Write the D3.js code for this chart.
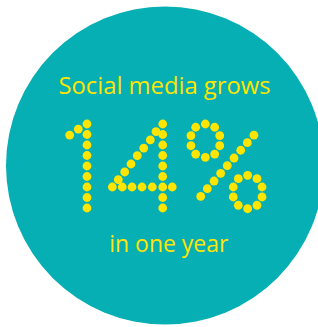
<!DOCTYPE html>
<html>
<head>
    <meta charset="utf-8">
    <style>
        body { margin: 0; background: #fff; }
        text { font-family: "Open Sans", sans-serif; fill: #ffe500; }
    </style>
    <script src="https://d3js.org/d3.v7.min.js"></script>
</head>
<body>
    <div id="graph"></div>
    <script>
        // dot positions on a grid (x col, y row)
        var oneDots = [[-1.65, 1.05], [-0.83, 0.48],
            [0, 0], [0, 1], [0, 2], [0, 3], [0, 4], [0, 5], [0, 6], [0, 7], [0, 8]];
        var fourDots = [[7.21, 0], [7.21, 1], [7.21, 2], [7.21, 3], [7.21, 4], [7.21, 5], [7.21, 6], [7.21, 7], [7.21, 8],
            [6.57, 0.73], [6.03, 1.52], [5.4, 2.29], [4.79, 3.02], [4.19, 3.81], [3.59, 4.57], [2.98, 5.3],
            [2.41, 6], [3.36, 6], [4.29, 6], [5.24, 6], [6.22, 6], [8.12, 6]];
        var percentDots = [
            [11.27, 0], [12.16, 0.31], [12.64, 1.11], [12.64, 2.07], [12.16, 2.86],
            [11.27, 3.17], [10.35, 2.86], [9.9, 2.07], [9.9, 1.11], [10.35, 0.31],
            [15.9, 1.05], [15.27, 1.78], [14.64, 2.5], [14, 3.24], [13.36, 3.97],
            [12.73, 4.7], [12.1, 5.43], [11.46, 6.16], [10.83, 6.89],
            [15.3, 4.89], [16.19, 5.21], [16.67, 6], [16.67, 6.95], [16.19, 7.74],
            [15.3, 8.07], [14.41, 7.74], [13.93, 6.95], [13.93, 6], [14.41, 5.21]];
        var headline = "Social media grows";
        var footline = "in one year";

        var width = 318, height = 327;
        var svg = d3.select("#graph").append("svg")
            .attr("width", width)
            .attr("height", height);

        var x = d3.scaleLinear().domain([0, 16]).range([87, 255]);
        var y = d3.scaleLinear().domain([0, 8]).range([124, 208]);

        svg.append("circle")
            .attr("cx", 165)
            .attr("cy", 165.5)
            .attr("r", 159)
            .attr("fill", "#06afb3");

        svg.append("text")
            .attr("x", 164.5)
            .attr("y", 94)
            .attr("text-anchor", "middle")
            .attr("font-size", 24)
            .attr("textLength", 212)
            .attr("lengthAdjust", "spacingAndGlyphs")
            .text(headline);

        svg.append("text")
            .attr("x", 168.8)
            .attr("y", 251.7)
            .attr("text-anchor", "middle")
            .attr("font-size", 24)
            .attr("textLength", 119)
            .attr("lengthAdjust", "spacingAndGlyphs")
            .text(footline);

        var dots = oneDots.concat(fourDots, percentDots);
        svg.selectAll(".dot")
            .data(dots)
            .enter().append("circle")
            .attr("class", "dot")
            .attr("cx", function(d) { return x(d[0]); })
            .attr("cy", function(d) { return y(d[1]); })
            .attr("r", 4.4)
            .attr("fill", "#ffe500");
    </script>
</body>
</html>
